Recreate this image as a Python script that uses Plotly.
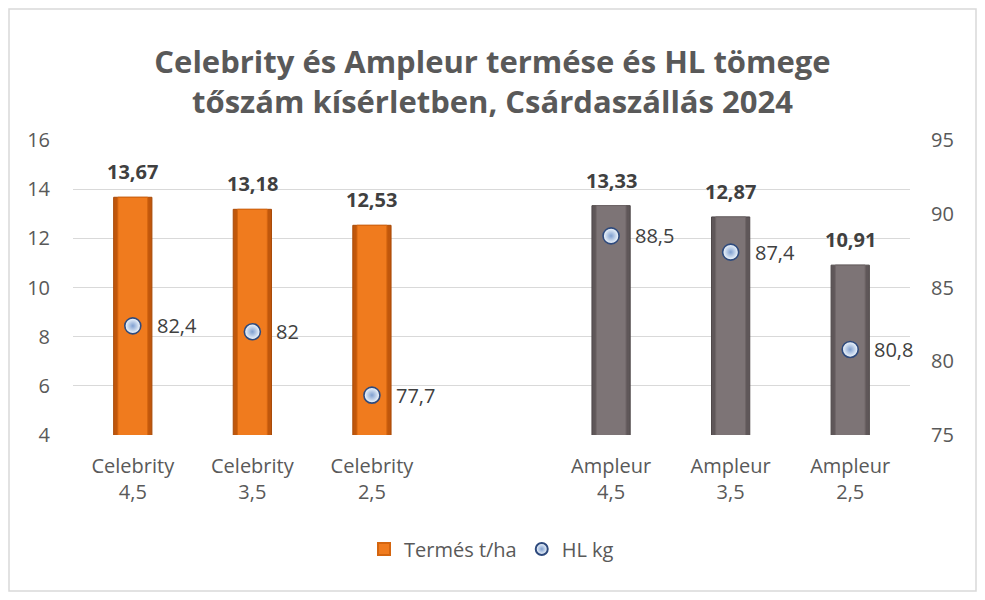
import plotly.graph_objects as go

categories = ["Celebrity<br>4,5", "Celebrity<br>3,5", "Celebrity<br>2,5", " ",
              "Ampleur<br>4,5", "Ampleur<br>3,5", "Ampleur<br>2,5"]
cel_cats = ["Celebrity<br>4,5", "Celebrity<br>3,5", "Celebrity<br>2,5"]
amp_cats = ["Ampleur<br>4,5", "Ampleur<br>3,5", "Ampleur<br>2,5"]
cel_yield = [13.67, 13.18, 12.53]
amp_yield = [13.33, 12.87, 10.91]
cel_hl = [82.4, 82.0, 77.7]
amp_hl = [88.5, 87.4, 80.8]
y1_ticks = [4, 6, 8, 10, 12, 14, 16]
y2_ticks = [75, 80, 85, 90, 95]

def fmt2(v):
    return f"{v:.2f}".replace(".", ",")

def fmtg(v):
    return ("%g" % v).replace(".", ",")

# page body has an 8px margin; work in figure coordinates = reference - 8
W, H = 969, 584
ml, mt = 65, 132
mr = W - 902
mb = H - 427
pw, ph = W - ml - mr, H - mt - mb

FONT = "Open Sans"
TXT = "#404040"
AX = "#595959"

fig = go.Figure()

# outer (dark edge) and inner (lighter face) bars to mimic the bevel look
fig.add_trace(go.Bar(x=cel_cats, y=cel_yield, name="Termés t/ha", width=0.32,
                     marker=dict(color="#C0570C", line=dict(color="#A84A08", width=1)),
                     legendgroup="t", showlegend=False))
fig.add_trace(go.Bar(x=cel_cats, y=cel_yield, name="Termés t/ha", width=0.25,
                     marker=dict(color="#F07B1E", line=dict(color="#D4650F", width=1)),
                     legendgroup="t", showlegend=True, hoverinfo="skip"))
fig.add_trace(go.Bar(x=amp_cats, y=amp_yield, name="Termés t/ha", width=0.32,
                     marker=dict(color="#5F5759", line=dict(color="#4F4849", width=1)),
                     legendgroup="t", showlegend=False))
fig.add_trace(go.Bar(x=amp_cats, y=amp_yield, name="Termés t/ha", width=0.25,
                     marker=dict(color="#7D7476", line=dict(color="#6E6567", width=1)),
                     legendgroup="t", showlegend=False, hoverinfo="skip"))

hl_cats = cel_cats + amp_cats
hl_vals = cel_hl + amp_hl
fig.add_trace(go.Scatter(x=hl_cats, y=hl_vals, yaxis="y2", mode="markers", name="HL kg",
                         marker=dict(size=16, color="#F7FCFF",
                                     gradient=dict(type="radial", color="#7F9FD0"),
                                     line=dict(color="#2E4A7D", width=1.6))))

annotations = []
for c, v in zip(cel_cats + amp_cats, cel_yield + amp_yield):
    annotations.append(dict(x=c, y=v, xref="x", yref="y", text="<b>" + fmt2(v) + "</b>",
                            showarrow=False, yanchor="bottom", yshift=10,
                            font=dict(family=FONT, size=20, color=TXT)))
for c, v in zip(hl_cats, hl_vals):
    annotations.append(dict(x=c, y=v, xref="x", yref="y2", text=fmtg(v),
                            showarrow=False, xanchor="left", xshift=22, yanchor="middle",
                            font=dict(family=FONT, size=20, color=TXT)))

fig.update_layout(
    width=W, height=H,
    margin=dict(l=ml, r=mr, t=mt, b=mb, autoexpand=False),
    paper_bgcolor="white", plot_bgcolor="white",
    barmode="overlay",
    title=dict(text="<b>Celebrity és Ampleur termése és HL tömege<br>tőszám kísérletben, Csárdaszállás 2024</b>",
               x=0.5, xanchor="center", y=1 - 65 / H, yanchor="middle",
               font=dict(family=FONT, size=31, color=AX)),
    xaxis=dict(type="category", categoryorder="array", categoryarray=categories,
               range=[-0.5, 6.5], showgrid=False, showline=False, ticks="",
               tickfont=dict(family=FONT, size=20, color=AX), ticklabelstandoff=17),
    yaxis=dict(range=[4, 16], tickvals=y1_ticks, showgrid=True, gridcolor="#D9D9D9",
               gridwidth=1.3, zeroline=False, showline=False, ticks="",
               tickfont=dict(family=FONT, size=20, color=AX), ticklabelstandoff=22),
    yaxis2=dict(range=[75, 95], tickvals=y2_ticks, overlaying="y", side="right",
                showgrid=False, zeroline=False, showline=False, ticks="",
                tickfont=dict(family=FONT, size=20, color=AX), ticklabelstandoff=20),
    legend=dict(orientation="h", x=0.5, xanchor="center", y=(H - mb - 541) / ph,
                yanchor="middle", font=dict(family=FONT, size=20, color=AX),
                itemsizing="constant", traceorder="normal", itemwidth=30),
    annotations=annotations,
    showlegend=True,
    shapes=[dict(type="rect", xref="paper", yref="paper",
                 x0=(1 - ml) / pw, x1=(968 - ml) / pw,
                 y0=(H - mb - 583) / ph, y1=(H - mb - 1) / ph,
                 line=dict(color="#D9D9D9", width=1.5), fillcolor="rgba(0,0,0,0)",
                 layer="below")],
)

fig.write_html("out.html")
